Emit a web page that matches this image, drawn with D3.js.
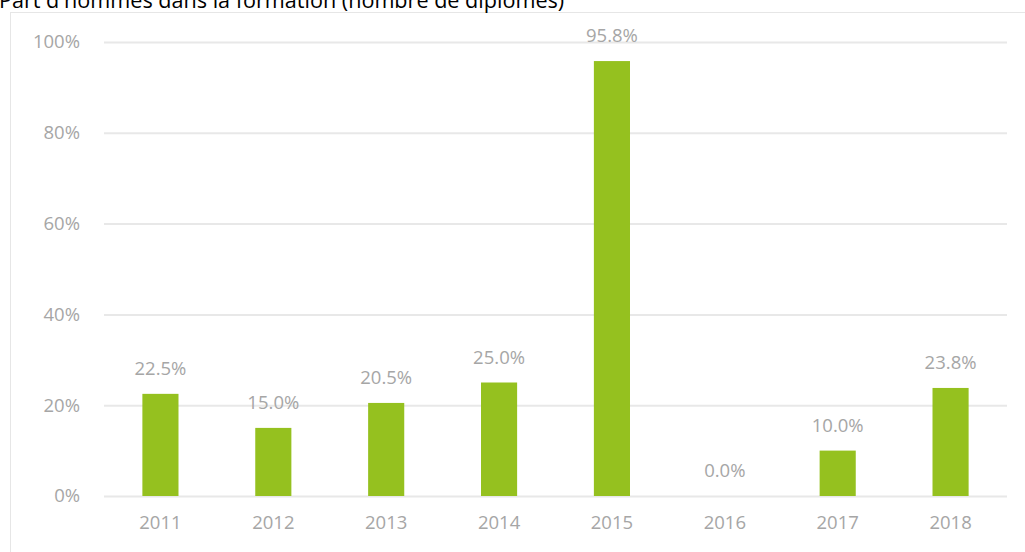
<!DOCTYPE html>
<html>
<head>
<meta charset="utf-8">
<script src="https://d3js.org/d3.v7.min.js"></script>
<style>
	body { margin: 0; background: #fff; }
	.title { font-family: "Open Sans", sans-serif; font-size: 21.6px; fill: #000; }
	.tick text, .lbl { font-family: "Open Sans", sans-serif; font-size: 18.5px; fill: #a6a6a6; }
</style>
</head>
<body>
<svg width="1025" height="552"></svg>
<script>
	// data
	var years = ["2011", "2012", "2013", "2014", "2015", "2016", "2017", "2018"];
	var values = [22.5, 15.0, 20.5, 25.0, 95.8, 0.0, 10.0, 23.8];
	var yTicks = [0, 20, 40, 60, 80, 100];

	var svg = d3.select("svg");

	// chart frame
	svg.append("rect")
		.attr("x", 10.5).attr("y", 12.5)
		.attr("width", 1020).attr("height", 560)
		.attr("fill", "none")
		.attr("stroke", "#e6e6e6");

	// title is partly cut at the top, as in the original
	svg.append("text")
		.attr("class", "title")
		.attr("x", -1).attr("y", 8)
		.text("Part d'hommes dans la formation (nombre de diplômes)");

	var x = d3.scaleBand()
		.domain(years)
		.range([104, 1007])
		.paddingInner(0.68)
		.paddingOuter(0.34);

	var y = d3.scaleLinear()
		.domain([0, 100])
		.range([496, 42]);

	// gridlines + y labels
	var yAxis = svg.append("g")
		.attr("transform", "translate(104,0)")
		.call(d3.axisLeft(y).tickValues(yTicks).tickSize(-903).tickPadding(24).tickFormat(function(d) { return d + "%"; }));
	yAxis.select(".domain").remove();
	yAxis.selectAll(".tick line").attr("stroke", "#e8e8e8").attr("stroke-width", 2);

	var xAxis = svg.append("g")
		.attr("transform", "translate(0,496)")
		.call(d3.axisBottom(x).tickSize(0).tickPadding(20));
	xAxis.select(".domain").remove();

	svg.append("g")
		.selectAll("rect")
		.data(values)
		.enter()
		.append("rect")
		.attr("x", function(d, i) { return x(years[i]); })
		.attr("y", function(d) { return y(d); })
		.attr("width", x.bandwidth())
		.attr("height", function(d) { return y(0) - y(d); })
		.attr("fill", "#95c11f");

	svg.append("g")
		.selectAll("text")
		.data(values)
		.enter()
		.append("text")
		.attr("class", "lbl")
		.attr("text-anchor", "middle")
		.attr("x", function(d, i) { return x(years[i]) + x.bandwidth() / 2; })
		.attr("y", function(d) { return y(d) - 19; })
		.text(function(d) { return d.toFixed(1) + "%"; });
</script>
</body>
</html>
